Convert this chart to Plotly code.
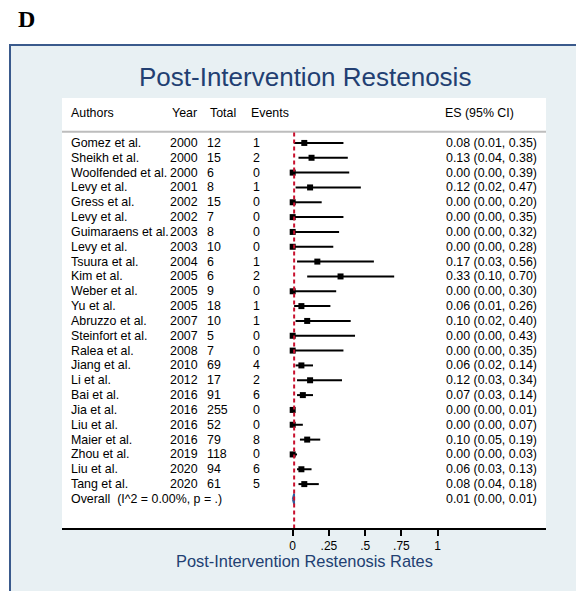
import plotly.graph_objects as go

# ---- study data -------------------------------------------------------------
authors = [
    "Gomez et al.", "Sheikh et al.", "Woolfended et al.", "Levy et al.",
    "Gress et al.", "Levy et al.", "Guimaraens et al.", "Levy et al.",
    "Tsuura et al.", "Kim et al.", "Weber et al.", "Yu et al.",
    "Abruzzo et al.", "Steinfort et al.", "Ralea et al.", "Jiang et al.",
    "Li et al.", "Bai et al.", "Jia et al.", "Liu et al.",
    "Maier et al.", "Zhou et al.", "Liu et al.", "Tang et al.",
]
years = [2000, 2000, 2000, 2001, 2002, 2002, 2003, 2003, 2004, 2005, 2005, 2005,
         2007, 2007, 2008, 2010, 2012, 2016, 2016, 2016, 2016, 2019, 2020, 2020]
totals = [12, 15, 6, 8, 15, 7, 8, 10, 6, 6, 9, 18,
          10, 5, 7, 69, 17, 91, 255, 52, 79, 118, 94, 61]
events = [1, 2, 0, 1, 0, 0, 0, 0, 1, 2, 0, 1,
          1, 0, 0, 4, 2, 6, 0, 0, 8, 0, 6, 5]
es = [0.08, 0.13, 0.00, 0.12, 0.00, 0.00, 0.00, 0.00, 0.17, 0.33, 0.00, 0.06,
      0.10, 0.00, 0.00, 0.06, 0.12, 0.07, 0.00, 0.00, 0.10, 0.00, 0.06, 0.08]
ci_low = [0.01, 0.04, 0.00, 0.02, 0.00, 0.00, 0.00, 0.00, 0.03, 0.10, 0.00, 0.01,
          0.02, 0.00, 0.00, 0.02, 0.03, 0.03, 0.00, 0.00, 0.05, 0.00, 0.03, 0.04]
ci_high = [0.35, 0.38, 0.39, 0.47, 0.20, 0.35, 0.32, 0.28, 0.56, 0.70, 0.30, 0.26,
           0.40, 0.43, 0.35, 0.14, 0.34, 0.14, 0.01, 0.07, 0.19, 0.03, 0.13, 0.18]

overall_label = "Overall\u00a0\u00a0(I^2 = 0.00%, p = .)"
overall_es, overall_low, overall_high = 0.01, 0.00, 0.01

headers = ["Authors", "Year", "Total", "Events", "ES (95% CI)"]
tick_vals = [0, 0.25, 0.5, 0.75, 1]
tick_text = ["0", ".25", ".5", ".75", "1"]
title_text = "Post-Intervention Restenosis"
xaxis_title = "Post-Intervention Restenosis Rates"

# ---- geometry ---------------------------------------------------------------
W, H = 576, 591
ML, MR, MT, MB = 62, 30, 98, 63
PW, PH = W - ML - MR, H - MT - MB

X_RANGE = [-1.591, 1.747]
Y_RANGE = [26.96, -2.03]          # row index, top to bottom

HEADER_ROW = -1
SEP_ROW = 0.25
n = len(authors)
rows = list(range(1, n + 1))
overall_row = n + 1

# column anchors in x data units
COL_AUTH, COL_YEAR, COL_TOTAL, COL_EVENTS, COL_ES = -1.529, -0.846, -0.591, -0.274, 1.057
HEAD_COLS = [-1.529, -0.832, -0.572, -0.288, 1.050]

FONT = "Liberation Sans, Arial, Helvetica, sans-serif"
TXT_SIZE = 12.4
NAVY = "#223f72"


def px_to_paper_x(px):
    return (px - ML) / PW


def px_to_paper_y(py):
    return 1 - (py - MT) / PH


fig = go.Figure()

# confidence intervals
ci_x, ci_y = [], []
for r, lo, hi in zip(rows, ci_low, ci_high):
    ci_x += [lo, hi, None]
    ci_y += [r, r, None]
fig.add_trace(go.Scatter(x=ci_x, y=ci_y, mode="lines",
                         line=dict(color="black", width=2), hoverinfo="skip",
                         showlegend=False))

# point estimates
fig.add_trace(go.Scatter(x=es, y=rows, mode="markers",
                         marker=dict(symbol="square", size=6, color="black",
                                     line=dict(width=0)),
                         showlegend=False))

# pooled estimate diamond
dh = 0.36
fig.add_trace(go.Scatter(
    x=[overall_low, overall_es, overall_high, overall_es, overall_low],
    y=[overall_row, overall_row - dh, overall_row, overall_row + dh, overall_row],
    mode="lines", fill="toself", fillcolor="#2f5f9e",
    line=dict(color="#2f5f9e", width=1.8), showlegend=False, hoverinfo="skip"))

annotations = []


def add_text(x, y, text, xref="x", yref="y", size=TXT_SIZE, color="black",
             xanchor="left", family=FONT):
    annotations.append(dict(x=x, y=y, xref=xref, yref=yref, text=text,
                            showarrow=False, xanchor=xanchor, yanchor="middle",
                            borderpad=0, borderwidth=0,
                            font=dict(family=family, size=size, color=color)))


for hx, h in zip(HEAD_COLS, headers):
    add_text(hx, HEADER_ROW, h)

for r, a, yr, t, ev, e, lo, hi in zip(rows, authors, years, totals, events,
                                      es, ci_low, ci_high):
    add_text(COL_AUTH, r, a)
    add_text(COL_YEAR, r, str(yr))
    add_text(COL_TOTAL, r, str(t))
    add_text(COL_EVENTS, r, str(ev))
    add_text(COL_ES, r, f"{e:.2f} ({lo:.2f}, {hi:.2f})")

add_text(COL_AUTH, overall_row, overall_label)
add_text(COL_ES, overall_row,
         f"{overall_es:.2f} ({overall_low:.2f}, {overall_high:.2f})")

# title, axis title and panel letter
add_text(px_to_paper_x(305), px_to_paper_y(77), title_text, xref="paper",
         yref="paper", size=26, color=NAVY, xanchor="center")
add_text(0.5, px_to_paper_y(561), xaxis_title, xref="paper", yref="paper",
         size=16.4, color=NAVY, xanchor="center")
add_text(px_to_paper_x(18), px_to_paper_y(19), "<b>D</b>", xref="paper",
         yref="paper", size=24, family="Liberation Serif, Times New Roman, serif")

shapes = [
    # outer graph region
    dict(type="rect", xref="paper", yref="paper", layer="below",
         x0=px_to_paper_x(10), x1=px_to_paper_x(590),
         y0=px_to_paper_y(600), y1=px_to_paper_y(45),
         fillcolor="#e8f0f3", line=dict(color="#3a5a8c", width=2)),
    # inner white plot region
    dict(type="rect", xref="paper", yref="paper", layer="below",
         x0=0, x1=1, y0=0, y1=1, fillcolor="white", line=dict(width=0)),
    # header separator
    dict(type="line", xref="paper", yref="y", x0=0, x1=1,
         y0=SEP_ROW, y1=SEP_ROW, line=dict(color="#bdbdbd", width=2)),
    # pooled-estimate reference line
    dict(type="line", xref="x", yref="y", x0=overall_es, x1=overall_es,
         y0=SEP_ROW + 0.05, y1=Y_RANGE[0],
         line=dict(color="#c8102e", width=2, dash="4px,3px")),
]

fig.update_layout(
    width=W, height=H,
    margin=dict(l=ML, r=MR, t=MT, b=MB, pad=0),
    paper_bgcolor="white", plot_bgcolor="rgba(0,0,0,0)",
    showlegend=False,
    annotations=annotations, shapes=shapes,
    font=dict(family=FONT, color="black"),
    xaxis=dict(range=X_RANGE, tickvals=tick_vals, ticktext=tick_text,
               showgrid=False, zeroline=False, showline=True,
               linecolor="black", linewidth=2, ticks="outside", ticklen=6,
               tickwidth=2, tickcolor="black",
               tickfont=dict(family=FONT, size=12, color="black"),
               fixedrange=True),
    yaxis=dict(range=Y_RANGE, showgrid=False, zeroline=False, showline=False,
               showticklabels=False, ticks="", fixedrange=True),
)

fig.write_html("out.html", config={"displayModeBar": False})
